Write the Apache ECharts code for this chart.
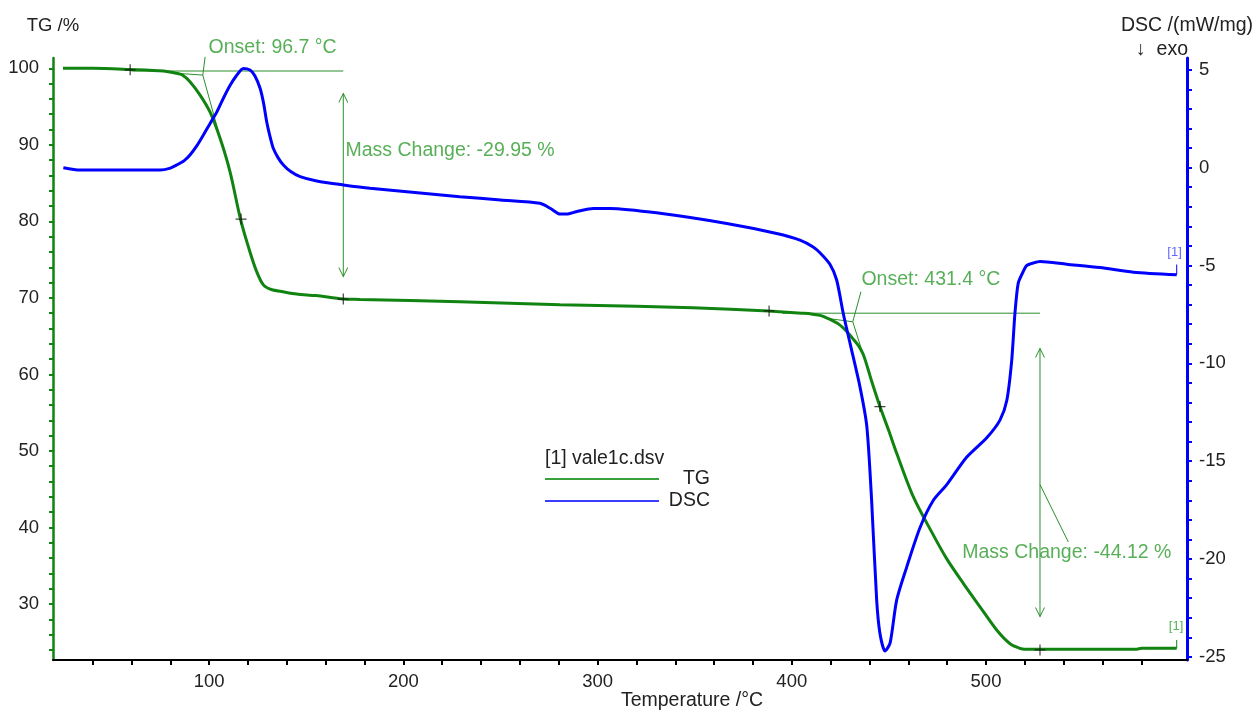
<!DOCTYPE html>
<html><head><meta charset="utf-8">
<script src="https://cdn.jsdelivr.net/npm/echarts@6/dist/echarts.min.js"></script>
<style>html,body{margin:0;padding:0;background:#fff}#c{width:1258px;height:713px}</style>
</head><body><div id="c"></div>
<script>
// ---- data ----
const tgTemp = [24.7, 40, 59.2, 76.4, 83.2, 86, 90.1, 95.3, 100.4, 105.6, 110.7, 116.2, 121, 124.5, 127.9, 132, 138, 145, 155, 169, 177.6, 229, 280.6, 320, 349, 388, 393.8, 405, 410, 414.5, 417, 419.7, 424, 428.3, 432, 434.5, 436.8, 439, 441, 445.4, 450, 454, 462.6, 472.9, 479.8, 488.3, 497, 505.5, 512.4, 517.5, 520, 540, 560, 577.6, 580, 598.2];
const tgValues = [100.0, 100.0, 99.85, 99.65, 99.35, 99.15, 98.25, 96.5, 94.3, 90.85, 86.5, 80.2, 76.0, 73.4, 71.7, 71.1, 70.8, 70.5, 70.3, 69.85, 69.8, 69.5, 69.1, 68.9, 68.7, 68.3, 68.2, 68.0, 67.9, 67.72, 67.5, 67.2, 66.6, 65.6, 64.5, 63.7, 62.6, 60.9, 59.2, 55.8, 52.6, 49.7, 44.0, 39.0, 35.9, 32.7, 29.6, 26.6, 24.8, 24.2, 24.1, 24.1, 24.1, 24.1, 24.2, 24.2];

const dscTemp = [24.9, 33.5, 74.7, 80, 83.3, 87, 90.1, 93.5, 97, 100.4, 103.9, 107.3, 110.7, 114, 117.6, 121, 123.5, 126.2, 128, 129.6, 131.3, 133, 135.5, 138.2, 142, 146.8, 155.4, 169.1, 182.8, 229, 250, 270.3, 276, 280.6, 284, 289, 297.8, 306.4, 332.1, 366.5, 392.2, 404.2, 411, 414.5, 419.7, 423.1, 426.5, 430, 435.1, 438.6, 441.1, 443.7, 445.4, 448, 450.6, 454, 459.2, 466, 472.9, 479.8, 490, 500.4, 507.2, 510.7, 513.2, 514.9, 516.6, 519.2, 521, 524.4, 527.8, 541.5, 558.7, 575.9, 598.2];
const dscValues = [0.0, -0.12, -0.12, -0.02, 0.14, 0.35, 0.65, 1.1, 1.67, 2.25, 2.84, 3.55, 4.2, 4.7, 5.07, 4.99, 4.7, 4.06, 3.3, 2.35, 1.6, 0.99, 0.5, 0.14, -0.2, -0.46, -0.68, -0.88, -1.05, -1.48, -1.65, -1.82, -2.1, -2.37, -2.37, -2.25, -2.08, -2.08, -2.33, -2.85, -3.36, -3.7, -4.05, -4.35, -4.95, -5.74, -7.45, -8.98, -11.2, -13.2, -17.0, -22.1, -23.8, -24.7, -24.3, -22.1, -20.4, -18.4, -17.0, -16.2, -14.8, -13.8, -12.9, -11.9, -9.9, -7.45, -5.9, -5.3, -5.0, -4.87, -4.79, -4.93, -5.1, -5.34, -5.47];

const xTickLabels = [100, 200, 300, 400, 500];
const tgTickLabels = [30, 40, 50, 60, 70, 80, 90, 100];
const dscTickLabels = [5, 0, -5, -10, -15, -20, -25];

// annotations (evaluation marks drawn by the analysis software)
const onset1Baseline = [[60, 99.65], [169.05, 99.65]];
const onset1Extrap = [[83.2, 99.35], [96.7, 99.12]];
const onset1Tangent = [[96.7, 99.12], [106.4, 90.2]];
const onset1Leader = [[96.7, 99.12], [97.9, 101.5]];
const mass1Arrow = [[169.05, 96.7], [169.05, 72.8]];
const onset2Baseline = [[395, 68.0], [527.8, 68.0]];
const onset2Extrap = [[418, 67.33], [431.4, 66.88]];
const onset2Tangent = [[431.4, 66.88], [437.5, 62.0]];
const onset2Leader = [[431.4, 66.88], [435.6, 70.8]];
const mass2Arrow = [[527.8, 63.4], [527.8, 28.35]];
const mass2Leader = [[527.8, 45.6], [542.4, 38.1]];
const tgEndMark = [[598.2, 24.2], [598.2, 25.3]];
const dscEndMark = [[598.2, -5.47], [598.2, -4.95]];
const crossPoints = [[59.3, 99.8], [116.4, 80.3], [169.05, 69.85], [388.3, 68.3], [445.4, 55.8], [527.8, 24.0]];
const greenTextNames = ['Onset: 96.7 °C', 'Mass Change: -29.95 %', 'Onset: 431.4 °C', 'Mass Change: -44.12 %'];
const greenTextAt = [[99.4, 102.72], [169.9, 89.2], [435.6, 72.34], [487.5, 36.67]];
const tgEndLabelAt = [593.9, 27.13];
const dscEndLabelAt = [593.1, -4.33];

// ---- chart ----
const FONT = "'Liberation Sans', Arial, sans-serif";
const FS = 18.5;   // tick labels
const FT = 19.5;   // other texts
const GREEN = '#118311';
const GREEN_T = '#2e9b2e';
const GREEN_L = '#2a8f2a';
const BLUE = '#0000ff';

const xMinor = []; for (let v = 40; v <= 580; v += 20) xMinor.push(v);
const tgMinor = []; for (let v = 24; v <= 100; v += 2) tgMinor.push(v);
const dscMinor = []; for (let v = -25; v <= 5; v += 1) dscMinor.push(v);

function zip(a, b) { return a.map((x, i) => [x, b[i]]); }
function annoLine(data, yIdx, color) {
  return { type: 'line', data: data, yAxisIndex: yIdx, symbol: 'none', silent: true, clip: false,
    lineStyle: { color: color || GREEN_L, width: 1 }, z: 3 };
}
const chevron = 'path://M5 0 M0 20 L5 10 L10 20';
function arrowLine(pts) {
  return { type: 'line', yAxisIndex: 0, silent: true, clip: false, showSymbol: true,
    symbol: chevron, symbolSize: [9, 18],
    data: [{ value: pts[0], symbolRotate: 0 }, { value: pts[1], symbolRotate: 180 }],
    itemStyle: { color: 'rgba(0,0,0,0)', borderColor: GREEN_L, borderWidth: 1 },
    lineStyle: { color: GREEN_L, width: 1 }, z: 3 };
}

const chart = echarts.init(document.getElementById('c'), null, { renderer: 'canvas' });
chart.setOption({
  animation: false,
  backgroundColor: '#fff',
  textStyle: { fontFamily: FONT },
  grid: { left: 53, right: 71, top: 58, bottom: 53, containLabel: false, outerBoundsMode: 'none' },
  title: {
    text: '[1] vale1c.dsv', left: 545, top: 449, padding: 0,
    textStyle: { fontFamily: FONT, fontSize: FT, fontWeight: 'normal', color: '#222' }
  },
  legend: {
    data: ['TG', 'DSC'], orient: 'vertical', left: 545, top: 469, padding: 0,
    icon: 'rect', itemWidth: 114, itemHeight: 2, itemGap: 2,
    formatter: n => '{r|' + n + '}',
    textStyle: { fontFamily: FONT, fontSize: FT, color: '#222', lineHeight: 20,
      rich: { r: { width: 46, align: 'right', fontFamily: FONT, fontSize: FT, color: '#222', lineHeight: 20 } } }
  },
  xAxis: {
    type: 'value', min: 19.57, max: 603.5,
    name: 'Temperature /°C', nameLocation: 'middle', nameGap: 31, nameMoveOverlap: false,
    nameTextStyle: { fontFamily: FONT, fontSize: FT, color: '#222', padding: [0, 0, 0, 144] },
    axisLine: { show: true, onZero: false, lineStyle: { color: '#000', width: 2 } },
    axisTick: { show: true, customValues: xMinor, length: 5, lineStyle: { color: '#000', width: 2 } },
    axisLabel: { customValues: xTickLabels, margin: 12, color: '#222', fontSize: FS, fontFamily: FONT },
    splitLine: { show: false }, minorTick: { show: false }
  },
  yAxis: [{
    type: 'value', position: 'left', min: 22.68, max: 101.35,
    name: 'TG /%', nameLocation: 'end', nameGap: 23, nameMoveOverlap: false,
    nameTextStyle: { fontFamily: FONT, fontSize: FS, color: '#222', align: 'center' },
    axisLine: { show: true, onZero: false, lineStyle: { color: GREEN, width: 2.5 } },
    axisTick: { show: true, customValues: tgMinor, length: 4, lineStyle: { color: GREEN, width: 2 } },
    axisLabel: { customValues: tgTickLabels, margin: 14, color: '#222', fontSize: FS, fontFamily: FONT },
    splitLine: { show: false }
  }, {
    type: 'value', position: 'right', min: -25.16, max: 5.605,
    name: '{a|DSC /(mW/mg)}\n{b|↓  exo}', nameLocation: 'end', nameGap: -4, nameMoveOverlap: false,
    nameTextStyle: { fontFamily: FONT, fontSize: FT, color: '#222', align: 'center',
      rich: { a: { fontFamily: FONT, fontSize: FT, color: '#222', lineHeight: 24 },
              b: { fontFamily: FONT, fontSize: FT, color: '#222', lineHeight: 24, padding: [0, 50, 0, 0] } } },
    axisLine: { show: true, onZero: false, lineStyle: { color: BLUE, width: 3 } },
    axisTick: { show: true, customValues: dscMinor, length: 5, lineStyle: { color: BLUE, width: 2 } },
    axisLabel: { customValues: dscTickLabels, margin: 12, color: '#222', fontSize: FS, fontFamily: FONT },
    splitLine: { show: false }
  }],
  series: [
    annoLine(onset1Baseline, 0), annoLine(onset1Extrap, 0), annoLine(onset1Tangent, 0), annoLine(onset1Leader, 0),
    annoLine(onset2Baseline, 0), annoLine(onset2Extrap, 0), annoLine(onset2Tangent, 0), annoLine(onset2Leader, 0),
    annoLine(mass2Leader, 0),
    arrowLine(mass1Arrow), arrowLine(mass2Arrow),
    annoLine(tgEndMark, 0, GREEN), annoLine(dscEndMark, 1, BLUE),
    {
      name: 'TG', type: 'line', yAxisIndex: 0, data: zip(tgTemp, tgValues),
      symbol: 'none', smooth: 0.3, color: '#3aa03a',
      lineStyle: { color: GREEN, width: 3 }, z: 4
    },
    {
      name: 'DSC', type: 'line', yAxisIndex: 1, data: zip(dscTemp, dscValues),
      symbol: 'none', smooth: 0.25, color: '#3c3cff',
      lineStyle: { color: BLUE, width: 3 }, z: 5
    },
    {
      type: 'scatter', yAxisIndex: 0, data: crossPoints, silent: true, clip: false,
      symbol: 'path://M0 5 H10 M5 0 V10', symbolSize: 11,
      itemStyle: { color: 'rgba(0,0,0,0)', borderColor: '#111', borderWidth: 1.2 }, z: 6
    },
    {
      type: 'scatter', yAxisIndex: 0, silent: true, clip: false, symbolSize: 1,
      itemStyle: { color: 'rgba(0,0,0,0)' },
      data: greenTextNames.map((n, i) => ({ name: n, value: greenTextAt[i] })),
      label: { show: true, position: 'right', distance: 0, formatter: '{b}', color: GREEN_T, fontSize: FT, fontFamily: FONT }, z: 7
    },
    {
      type: 'scatter', yAxisIndex: 0, silent: true, clip: false, symbolSize: 1,
      itemStyle: { color: 'rgba(0,0,0,0)' },
      data: [{ name: '[1]', value: tgEndLabelAt }],
      label: { show: true, position: 'right', distance: 0, formatter: '{b}', color: GREEN_T, fontSize: 13, fontFamily: FONT }, z: 7
    },
    {
      type: 'scatter', yAxisIndex: 1, silent: true, clip: false, symbolSize: 1,
      itemStyle: { color: 'rgba(0,0,0,0)' },
      data: [{ name: '[1]', value: dscEndLabelAt }],
      label: { show: true, position: 'right', distance: 0, formatter: '{b}', color: '#3c3cff', fontSize: 13, fontFamily: FONT }, z: 7
    }
  ]
});
</script>
</body></html>
